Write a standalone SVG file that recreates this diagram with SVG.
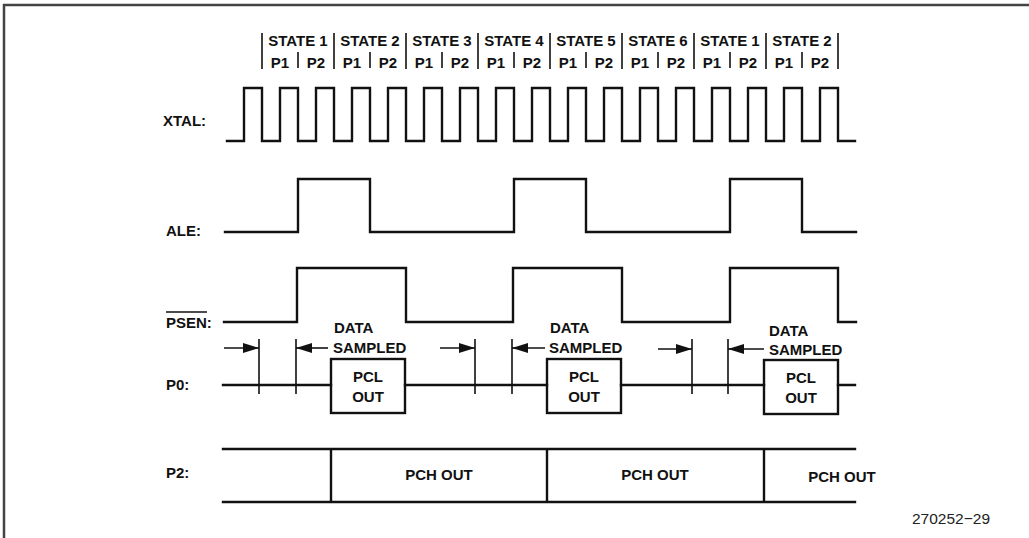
<svg xmlns="http://www.w3.org/2000/svg" width="1029" height="538" viewBox="0 0 1029 538">
<style>
.w{fill:none;stroke:#111;stroke-width:2.4;stroke-linejoin:miter;stroke-linecap:square}
.t{fill:none;stroke:#111;stroke-width:1.6}
.b{font-family:"Liberation Sans",Arial,sans-serif;font-weight:bold;font-size:15px;fill:#111}
.c{text-anchor:middle}
.n{font-family:"Liberation Sans",Arial,sans-serif;font-size:15.5px;fill:#222}
</style>
<defs>
<marker id="ah" viewBox="0 0 16 10" refX="16" refY="5" markerWidth="16" markerHeight="10" markerUnits="userSpaceOnUse" orient="auto">
<path d="M0,0 L16,5 L0,10 Z" fill="#111"/>
</marker>
</defs>
<rect width="1029" height="538" fill="#fff"/>
<g id="frame">
<path d="M3,5 H1029 M4,4 V538" stroke="#444" stroke-width="2.5" fill="none"/>
</g>
<g id="header">
<g class="t">
<path d="M262,33 V69 M334,33 V69 M406,33 V69 M478,33 V69 M550,33 V69 M622,33 V69 M694,33 V69 M766,33 V69 M838,33 V69"/>
<path d="M298,52 V68 M370,52 V68 M442,52 V68 M514,52 V68 M586,52 V68 M658,52 V68 M730,52 V68 M802,52 V68"/>
</g>
<g class="b c">
<text x="298" y="46">STATE 1</text>
<text x="370" y="46">STATE 2</text>
<text x="442" y="46">STATE 3</text>
<text x="514" y="46">STATE 4</text>
<text x="586" y="46">STATE 5</text>
<text x="658" y="46">STATE 6</text>
<text x="730" y="46">STATE 1</text>
<text x="802" y="46">STATE 2</text>
<text x="280" y="68">P1</text><text x="316" y="68">P2</text>
<text x="352" y="68">P1</text><text x="388" y="68">P2</text>
<text x="424" y="68">P1</text><text x="460" y="68">P2</text>
<text x="496" y="68">P1</text><text x="532" y="68">P2</text>
<text x="568" y="68">P1</text><text x="604" y="68">P2</text>
<text x="640" y="68">P1</text><text x="676" y="68">P2</text>
<text x="712" y="68">P1</text><text x="748" y="68">P2</text>
<text x="784" y="68">P1</text><text x="820" y="68">P2</text>
</g>
</g>
<g id="xtal">
<text class="b" x="163" y="126">XTAL:</text>
<path class="w" d="M227,141 H244 V88 H262 V141 H280 V88 H298 V141 H316 V88 H334 V141 H352 V88 H370 V141 H388 V88 H406 V141 H424 V88 H442 V141 H460 V88 H478 V141 H496 V88 H514 V141 H532 V88 H550 V141 H568 V88 H586 V141 H604 V88 H622 V141 H640 V88 H658 V141 H676 V88 H694 V141 H712 V88 H730 V141 H748 V88 H766 V141 H784 V88 H802 V141 H820 V88 H838 V141 H855"/>
</g>
<g id="ale">
<text class="b" x="166" y="236">ALE:</text>
<path class="w" d="M225,232 H298 V179 H370 V232 H514 V179 H586 V232 H730 V179 H802 V232 H856"/>
</g>
<g id="psen">
<text class="b" x="166" y="328">PSEN:</text>
<path d="M166,312 H207" stroke="#111" stroke-width="1.4"/>
<path class="w" d="M224,322 H297 V268 H406 V322 H513 V268 H622 V322 H730 V268 H838 V322 H856"/>
</g>
<g id="p0">
<text class="b" x="166" y="390">P0:</text>
<path class="w" d="M223,385 H331 M405,385 H547 M621,385 H764 M838,385 H855"/>
<path class="t" d="M259,339 V394 M296,339 V394 M475,339 V394 M512,339 V394 M692,339 V394 M728,339 V394"/>
</g>
<g id="pcl1">
<rect class="w" x="331" y="359" width="74" height="54"/>
<text class="b c" x="368" y="382">PCL</text>
<text class="b c" x="368" y="402">OUT</text>
</g>
<g id="pcl2">
<rect class="w" x="547" y="359" width="74" height="54"/>
<text class="b c" x="584" y="382">PCL</text>
<text class="b c" x="584" y="402">OUT</text>
</g>
<g id="pcl3">
<rect class="w" x="764" y="360" width="74" height="54"/>
<text class="b c" x="801" y="383">PCL</text>
<text class="b c" x="801" y="403">OUT</text>
</g>
<g id="sampled-labels" class="b">
<text x="334" y="333">DATA</text>
<text x="333" y="353">SAMPLED</text>
<text x="550" y="333">DATA</text>
<text x="549" y="353">SAMPLED</text>
<text x="769" y="336">DATA</text>
<text x="769" y="355">SAMPLED</text>
</g>
<g id="connectors" fill="none" stroke="#111" stroke-width="1.6">
<line x1="224" y1="348" x2="259" y2="348" marker-end="url(#ah)"/>
<line x1="328" y1="348" x2="296" y2="348" marker-end="url(#ah)"/>
<line x1="440" y1="348" x2="475" y2="348" marker-end="url(#ah)"/>
<line x1="545" y1="348" x2="512" y2="348" marker-end="url(#ah)"/>
<line x1="658" y1="349" x2="692" y2="349" marker-end="url(#ah)"/>
<line x1="764" y1="349" x2="728" y2="349" marker-end="url(#ah)"/>
</g>
<g id="p2">
<text class="b" x="166" y="478">P2:</text>
<path class="w" d="M223,449 H855 M223,502 H855 M331,449 V502 M547,449 V502 M764,449 V502"/>
<text class="b c" x="439" y="480">PCH OUT</text>
<text class="b c" x="655" y="480">PCH OUT</text>
<text class="b c" x="842" y="482">PCH OUT</text>
</g>
<g id="footer">
<text class="n" x="912" y="524">270252−29</text>
</g>
</svg>
